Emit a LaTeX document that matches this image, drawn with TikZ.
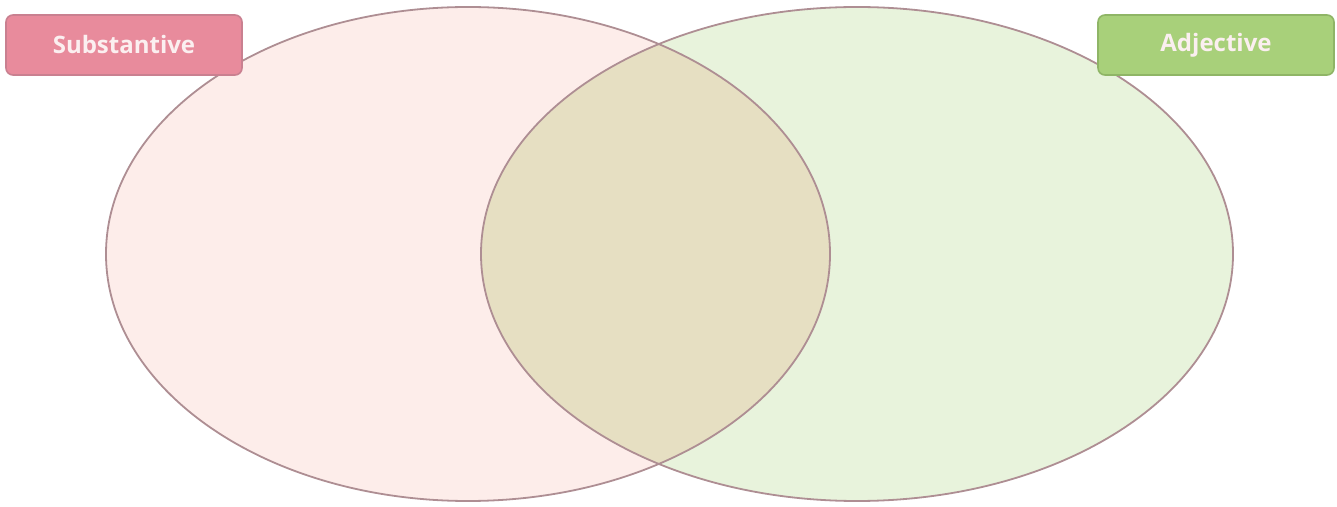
\documentclass[tikz,border=0pt]{standalone}
\usepackage{fontspec}
\setmainfont{Open Sans}
\definecolor{pinkfill}{HTML}{FDEDEA}
\definecolor{greenfill}{HTML}{E8F3DC}
\definecolor{overlapfill}{HTML}{E6DFC2}
\definecolor{ringline}{HTML}{AE8E93}
\definecolor{subfill}{HTML}{E88B9C}
\definecolor{subline}{HTML}{C98090}
\definecolor{adjfill}{HTML}{A8D07A}
\definecolor{adjline}{HTML}{8FB566}
\definecolor{labeltext}{HTML}{FBEFF0}
\tikzset{
  ring/.style={draw=ringline, line width=1.8pt},
  tag/.style={rounded corners=7pt, line width=1.6pt, minimum width=236pt, minimum height=60pt,
    text=labeltext, font=\fontsize{24}{28}\selectfont\bfseries, inner sep=0pt},
}
\begin{document}
\begin{tikzpicture}[x=1pt,y=1pt]
\useasboundingbox (0,0) rectangle (1337,506);
\def\leftell{(468,252) ellipse [x radius=362, y radius=247]}
\def\rightell{(857,252) ellipse [x radius=376, y radius=247]}
\fill[pinkfill] \leftell;
\fill[greenfill] \rightell;
\begin{scope}
  \clip \leftell;
  \fill[overlapfill] \rightell;
\end{scope}
\draw[ring] \leftell;
\draw[ring] \rightell;
\node[tag, fill=subfill, draw=subline] (subst) at (124,461) {Substantive};
\node[tag, fill=adjfill, draw=adjline] (adj) at (1216,461) {Adjective};
\end{tikzpicture}
\end{document}
